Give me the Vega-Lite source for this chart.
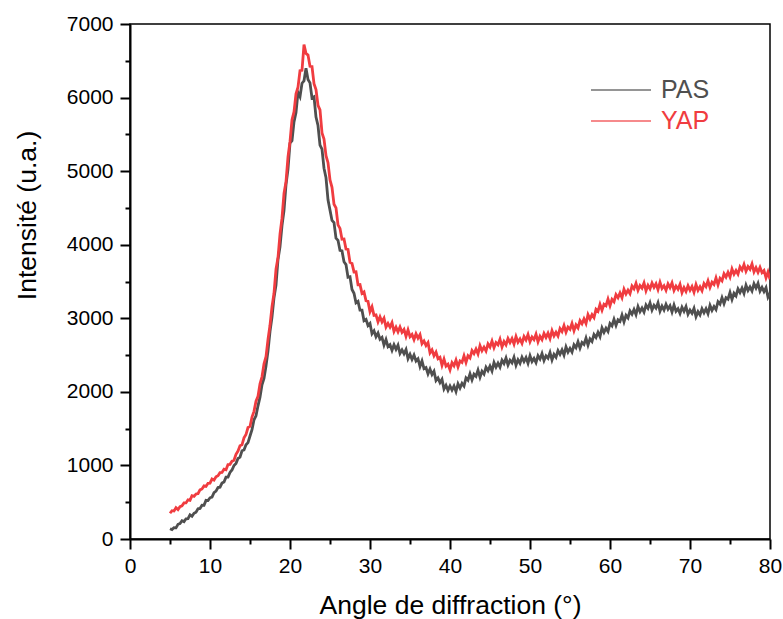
{
  "$schema": "https://vega.github.io/schema/vega-lite/v6.json",
  "width": 640,
  "height": 515,
  "autosize": "none",
  "padding": {"left": 130, "top": 24, "right": 13, "bottom": 80},
  "background": "white",
  "config": {
    "view": {"stroke": "black", "strokeWidth": 1.5},
    "font": "Liberation Sans",
    "axis": {
      "grid": false,
      "labelFont": "Liberation Sans",
      "labelFontSize": 21,
      "labelColor": "black",
      "titleFont": "Liberation Sans",
      "titleFontSize": 26.5,
      "titleFontWeight": "normal",
      "titleColor": "black",
      "domainColor": "black",
      "domainWidth": 2,
      "tickColor": "black",
      "tickWidth": 2,
      "tickSize": 10
    }
  },
  "data": {
    "values": [
      {"a":5,"PAS":140,"YAP":350},{"a":5.25,"PAS":128,"YAP":385},{"a":5.5,"PAS":155,"YAP":380},{"a":5.75,"PAS":152,"YAP":425},
      {"a":6,"PAS":200,"YAP":400},{"a":6.25,"PAS":209,"YAP":440},{"a":6.5,"PAS":248,"YAP":450},{"a":6.75,"PAS":236,"YAP":490},
      {"a":7,"PAS":275,"YAP":490},{"a":7.25,"PAS":276,"YAP":532},{"a":7.5,"PAS":328,"YAP":525},{"a":7.75,"PAS":309,"YAP":588},
      {"a":8,"PAS":350,"YAP":580},{"a":8.25,"PAS":365,"YAP":612},{"a":8.5,"PAS":410,"YAP":615},{"a":8.75,"PAS":415,"YAP":668},
      {"a":9,"PAS":460,"YAP":680},{"a":9.25,"PAS":458,"YAP":722},{"a":9.5,"PAS":525,"YAP":715},{"a":9.75,"PAS":522,"YAP":758},
      {"a":10,"PAS":560,"YAP":760},{"a":10.25,"PAS":570,"YAP":815},{"a":10.5,"PAS":630,"YAP":800},{"a":10.75,"PAS":650,"YAP":845},
      {"a":11,"PAS":700,"YAP":860},{"a":11.25,"PAS":705,"YAP":902},{"a":11.5,"PAS":760,"YAP":905},{"a":11.75,"PAS":775,"YAP":948},
      {"a":12,"PAS":840,"YAP":940},{"a":12.25,"PAS":842,"YAP":1012},{"a":12.5,"PAS":905,"YAP":1015},{"a":12.75,"PAS":938,"YAP":1058},
      {"a":13,"PAS":1000,"YAP":1070},{"a":13.25,"PAS":1028,"YAP":1152},{"a":13.5,"PAS":1095,"YAP":1195},{"a":13.75,"PAS":1112,"YAP":1268},
      {"a":14,"PAS":1200,"YAP":1280},{"a":14.25,"PAS":1210,"YAP":1375},{"a":14.5,"PAS":1280,"YAP":1420},{"a":14.75,"PAS":1310,"YAP":1515},
      {"a":15,"PAS":1400,"YAP":1530},{"a":15.25,"PAS":1485,"YAP":1658},{"a":15.5,"PAS":1620,"YAP":1735},{"a":15.75,"PAS":1675,"YAP":1872},
      {"a":16,"PAS":1810,"YAP":1940},{"a":16.25,"PAS":1928,"YAP":2108},{"a":16.5,"PAS":2095,"YAP":2205},{"a":16.75,"PAS":2182,"YAP":2382},
      {"a":17,"PAS":2350,"YAP":2480},{"a":17.25,"PAS":2555,"YAP":2712},{"a":17.5,"PAS":2820,"YAP":2905},{"a":17.75,"PAS":3015,"YAP":3158},
      {"a":18,"PAS":3280,"YAP":3340},{"a":18.25,"PAS":3450,"YAP":3668},{"a":18.5,"PAS":3800,"YAP":3825},{"a":18.75,"PAS":3970,"YAP":4142},
      {"a":19,"PAS":4260,"YAP":4360},{"a":19.25,"PAS":4462,"YAP":4698},{"a":19.5,"PAS":4815,"YAP":4855},{"a":19.75,"PAS":5028,"YAP":5192},
      {"a":20,"PAS":5380,"YAP":5400},{"a":20.25,"PAS":5415,"YAP":5698},{"a":20.5,"PAS":5670,"YAP":5805},{"a":20.75,"PAS":5795,"YAP":6052},
      {"a":21,"PAS":6070,"YAP":6140},{"a":21.25,"PAS":6012,"YAP":6365},{"a":21.5,"PAS":6195,"YAP":6370},{"a":21.75,"PAS":6228,"YAP":6720},
      {"a":22,"PAS":6400,"YAP":6600},{"a":22.25,"PAS":6245,"YAP":6578},{"a":22.5,"PAS":6200,"YAP":6425},{"a":22.75,"PAS":5995,"YAP":6422},
      {"a":23,"PAS":6010,"YAP":6190},{"a":23.25,"PAS":5735,"YAP":6108},{"a":23.5,"PAS":5620,"YAP":5895},{"a":23.75,"PAS":5355,"YAP":5832},
      {"a":24,"PAS":5300,"YAP":5520},{"a":24.25,"PAS":5040,"YAP":5435},{"a":24.5,"PAS":4910,"YAP":5210},{"a":24.75,"PAS":4610,"YAP":5115},
      {"a":25,"PAS":4470,"YAP":4880},{"a":25.25,"PAS":4330,"YAP":4780},{"a":25.5,"PAS":4300,"YAP":4550},{"a":25.75,"PAS":4090,"YAP":4500},
      {"a":26,"PAS":4060,"YAP":4270},{"a":26.25,"PAS":3922,"YAP":4222},{"a":26.5,"PAS":3915,"YAP":4075},{"a":26.75,"PAS":3768,"YAP":4078},
      {"a":27,"PAS":3730,"YAP":3940},{"a":27.25,"PAS":3558,"YAP":3935},{"a":27.5,"PAS":3565,"YAP":3760},{"a":27.75,"PAS":3392,"YAP":3745},
      {"a":28,"PAS":3340,"YAP":3630},{"a":28.25,"PAS":3210,"YAP":3632},{"a":28.5,"PAS":3230,"YAP":3455},{"a":28.75,"PAS":3110,"YAP":3458},
      {"a":29,"PAS":3110,"YAP":3340},{"a":29.25,"PAS":2968,"YAP":3360},{"a":29.5,"PAS":2985,"YAP":3240},{"a":29.75,"PAS":2902,"YAP":3230},
      {"a":30,"PAS":2930,"YAP":3090},{"a":30.25,"PAS":2790,"YAP":3155},{"a":30.5,"PAS":2830,"YAP":3040},{"a":30.75,"PAS":2750,"YAP":3045},
      {"a":31,"PAS":2800,"YAP":2950},{"a":31.25,"PAS":2715,"YAP":3020},{"a":31.5,"PAS":2740,"YAP":2950},{"a":31.75,"PAS":2635,"YAP":3000},
      {"a":32,"PAS":2710,"YAP":2880},{"a":32.25,"PAS":2615,"YAP":2930},{"a":32.5,"PAS":2640,"YAP":2880},{"a":32.75,"PAS":2565,"YAP":2940},
      {"a":33,"PAS":2640,"YAP":2820},{"a":33.25,"PAS":2578,"YAP":2878},{"a":33.5,"PAS":2635,"YAP":2815},{"a":33.75,"PAS":2522,"YAP":2882},
      {"a":34,"PAS":2570,"YAP":2810},{"a":34.25,"PAS":2518,"YAP":2848},{"a":34.5,"PAS":2575,"YAP":2755},{"a":34.75,"PAS":2452,"YAP":2842},
      {"a":35,"PAS":2510,"YAP":2750},{"a":35.25,"PAS":2440,"YAP":2780},{"a":35.5,"PAS":2500,"YAP":2710},{"a":35.75,"PAS":2420,"YAP":2790},
      {"a":36,"PAS":2450,"YAP":2730},{"a":36.25,"PAS":2345,"YAP":2778},{"a":36.5,"PAS":2420,"YAP":2655},{"a":36.75,"PAS":2315,"YAP":2692},
      {"a":37,"PAS":2330,"YAP":2630},{"a":37.25,"PAS":2245,"YAP":2670},{"a":37.5,"PAS":2310,"YAP":2530},{"a":37.75,"PAS":2235,"YAP":2570},
      {"a":38,"PAS":2280,"YAP":2490},{"a":38.25,"PAS":2155,"YAP":2540},{"a":38.5,"PAS":2190,"YAP":2450},{"a":38.75,"PAS":2125,"YAP":2470},
      {"a":39,"PAS":2170,"YAP":2360},{"a":39.25,"PAS":2040,"YAP":2445},{"a":39.5,"PAS":2090,"YAP":2350},{"a":39.75,"PAS":2020,"YAP":2375},
      {"a":40,"PAS":2080,"YAP":2300},{"a":40.25,"PAS":2025,"YAP":2398},{"a":40.5,"PAS":2080,"YAP":2355},{"a":40.75,"PAS":2005,"YAP":2432},
      {"a":41,"PAS":2110,"YAP":2340},{"a":41.25,"PAS":2052,"YAP":2420},{"a":41.5,"PAS":2115,"YAP":2400},{"a":41.75,"PAS":2078,"YAP":2490},
      {"a":42,"PAS":2190,"YAP":2400},{"a":42.25,"PAS":2158,"YAP":2490},{"a":42.5,"PAS":2245,"YAP":2460},{"a":42.75,"PAS":2162,"YAP":2560},
      {"a":43,"PAS":2240,"YAP":2520},{"a":43.25,"PAS":2212,"YAP":2582},{"a":43.5,"PAS":2295,"YAP":2515},{"a":43.75,"PAS":2198,"YAP":2628},
      {"a":44,"PAS":2280,"YAP":2560},{"a":44.25,"PAS":2242,"YAP":2608},{"a":44.5,"PAS":2335,"YAP":2555},{"a":44.75,"PAS":2288,"YAP":2652},
      {"a":45,"PAS":2350,"YAP":2610},{"a":45.25,"PAS":2285,"YAP":2690},{"a":45.5,"PAS":2400,"YAP":2600},{"a":45.75,"PAS":2335,"YAP":2670},
      {"a":46,"PAS":2390,"YAP":2640},{"a":46.25,"PAS":2335,"YAP":2715},{"a":46.5,"PAS":2430,"YAP":2610},{"a":46.75,"PAS":2385,"YAP":2685},
      {"a":47,"PAS":2460,"YAP":2640},{"a":47.25,"PAS":2365,"YAP":2725},{"a":47.5,"PAS":2430,"YAP":2670},{"a":47.75,"PAS":2395,"YAP":2725},
      {"a":48,"PAS":2470,"YAP":2650},{"a":48.25,"PAS":2362,"YAP":2752},{"a":48.5,"PAS":2435,"YAP":2675},{"a":48.75,"PAS":2388,"YAP":2718},
      {"a":49,"PAS":2470,"YAP":2660},{"a":49.25,"PAS":2412,"YAP":2752},{"a":49.5,"PAS":2465,"YAP":2705},{"a":49.75,"PAS":2388,"YAP":2778},
      {"a":50,"PAS":2490,"YAP":2680},{"a":50.25,"PAS":2412,"YAP":2745},{"a":50.5,"PAS":2455,"YAP":2710},{"a":50.75,"PAS":2398,"YAP":2785},
      {"a":51,"PAS":2490,"YAP":2680},{"a":51.25,"PAS":2445,"YAP":2755},{"a":51.5,"PAS":2520,"YAP":2710},{"a":51.75,"PAS":2425,"YAP":2795},
      {"a":52,"PAS":2490,"YAP":2740},{"a":52.25,"PAS":2458,"YAP":2798},{"a":52.5,"PAS":2535,"YAP":2725},{"a":52.75,"PAS":2432,"YAP":2832},
      {"a":53,"PAS":2510,"YAP":2760},{"a":53.25,"PAS":2470,"YAP":2810},{"a":53.5,"PAS":2560,"YAP":2760},{"a":53.75,"PAS":2510,"YAP":2860},
      {"a":54,"PAS":2570,"YAP":2820},{"a":54.25,"PAS":2500,"YAP":2900},{"a":54.5,"PAS":2610,"YAP":2810},{"a":54.75,"PAS":2540,"YAP":2880},
      {"a":55,"PAS":2590,"YAP":2850},{"a":55.25,"PAS":2540,"YAP":2930},{"a":55.5,"PAS":2640,"YAP":2830},{"a":55.75,"PAS":2600,"YAP":2910},
      {"a":56,"PAS":2680,"YAP":2870},{"a":56.25,"PAS":2595,"YAP":2968},{"a":56.5,"PAS":2670,"YAP":2925},{"a":56.75,"PAS":2645,"YAP":2992},
      {"a":57,"PAS":2730,"YAP":2930},{"a":57.25,"PAS":2635,"YAP":3050},{"a":57.5,"PAS":2720,"YAP":2990},{"a":57.75,"PAS":2685,"YAP":3050},
      {"a":58,"PAS":2780,"YAP":3010},{"a":58.25,"PAS":2740,"YAP":3122},{"a":58.5,"PAS":2810,"YAP":3095},{"a":58.75,"PAS":2750,"YAP":3188},
      {"a":59,"PAS":2870,"YAP":3110},{"a":59.25,"PAS":2808,"YAP":3190},{"a":59.5,"PAS":2865,"YAP":3170},{"a":59.75,"PAS":2822,"YAP":3260},
      {"a":60,"PAS":2930,"YAP":3170},{"a":60.25,"PAS":2898,"YAP":3258},{"a":60.5,"PAS":2985,"YAP":3225},{"a":60.75,"PAS":2902,"YAP":3322},
      {"a":61,"PAS":2980,"YAP":3280},{"a":61.25,"PAS":2958,"YAP":3345},{"a":61.5,"PAS":3045,"YAP":3280},{"a":61.75,"PAS":2952,"YAP":3395},
      {"a":62,"PAS":3040,"YAP":3330},{"a":62.25,"PAS":3005,"YAP":3382},{"a":62.5,"PAS":3100,"YAP":3335},{"a":62.75,"PAS":3055,"YAP":3438},
      {"a":63,"PAS":3120,"YAP":3400},{"a":63.25,"PAS":3050,"YAP":3475},{"a":63.5,"PAS":3160,"YAP":3380},{"a":63.75,"PAS":3090,"YAP":3445},
      {"a":64,"PAS":3140,"YAP":3410},{"a":64.25,"PAS":3085,"YAP":3482},{"a":64.5,"PAS":3180,"YAP":3375},{"a":64.75,"PAS":3135,"YAP":3448},
      {"a":65,"PAS":3210,"YAP":3400},{"a":65.25,"PAS":3112,"YAP":3480},{"a":65.5,"PAS":3175,"YAP":3420},{"a":65.75,"PAS":3138,"YAP":3470},
      {"a":66,"PAS":3210,"YAP":3390},{"a":66.25,"PAS":3098,"YAP":3488},{"a":66.5,"PAS":3165,"YAP":3405},{"a":66.75,"PAS":3112,"YAP":3442},
      {"a":67,"PAS":3190,"YAP":3380},{"a":67.25,"PAS":3125,"YAP":3468},{"a":67.5,"PAS":3170,"YAP":3415},{"a":67.75,"PAS":3085,"YAP":3482},
      {"a":68,"PAS":3180,"YAP":3380},{"a":68.25,"PAS":3095,"YAP":3438},{"a":68.5,"PAS":3130,"YAP":3395},{"a":68.75,"PAS":3065,"YAP":3462},
      {"a":69,"PAS":3150,"YAP":3350},{"a":69.25,"PAS":3095,"YAP":3418},{"a":69.5,"PAS":3160,"YAP":3365},{"a":69.75,"PAS":3055,"YAP":3442},
      {"a":70,"PAS":3110,"YAP":3380},{"a":70.25,"PAS":3068,"YAP":3432},{"a":70.5,"PAS":3135,"YAP":3355},{"a":70.75,"PAS":3022,"YAP":3458},
      {"a":71,"PAS":3090,"YAP":3380},{"a":71.25,"PAS":3045,"YAP":3428},{"a":71.5,"PAS":3130,"YAP":3375},{"a":71.75,"PAS":3075,"YAP":3472},
      {"a":72,"PAS":3130,"YAP":3430},{"a":72.25,"PAS":3062,"YAP":3510},{"a":72.5,"PAS":3175,"YAP":3420},{"a":72.75,"PAS":3108,"YAP":3490},
      {"a":73,"PAS":3160,"YAP":3460},{"a":73.25,"PAS":3118,"YAP":3548},{"a":73.5,"PAS":3225,"YAP":3455},{"a":73.75,"PAS":3192,"YAP":3542},
      {"a":74,"PAS":3280,"YAP":3510},{"a":74.25,"PAS":3200,"YAP":3605},{"a":74.5,"PAS":3280,"YAP":3560},{"a":74.75,"PAS":3260,"YAP":3625},
      {"a":75,"PAS":3350,"YAP":3560},{"a":75.25,"PAS":3255,"YAP":3670},{"a":75.5,"PAS":3340,"YAP":3600},{"a":75.75,"PAS":3305,"YAP":3650},
      {"a":76,"PAS":3400,"YAP":3600},{"a":76.25,"PAS":3350,"YAP":3698},{"a":76.5,"PAS":3410,"YAP":3655},{"a":76.75,"PAS":3340,"YAP":3732},
      {"a":77,"PAS":3450,"YAP":3640},{"a":77.25,"PAS":3378,"YAP":3702},{"a":77.5,"PAS":3425,"YAP":3665},{"a":77.75,"PAS":3372,"YAP":3738},
      {"a":78,"PAS":3470,"YAP":3630},{"a":78.25,"PAS":3412,"YAP":3688},{"a":78.5,"PAS":3475,"YAP":3625},{"a":78.75,"PAS":3368,"YAP":3692},
      {"a":79,"PAS":3420,"YAP":3620},{"a":79.25,"PAS":3362,"YAP":3650},{"a":79.5,"PAS":3415,"YAP":3550},{"a":79.75,"PAS":3288,"YAP":3630},
      {"a":80,"PAS":3340,"YAP":3530}
    ]
  },
  "transform": [{"fold": ["PAS", "YAP"], "as": ["serie", "v"]}],
  "layer": [
    {
      "mark": {"type": "line", "strokeWidth": 2.8, "clip": true},
      "encoding": {
        "x": {
          "field": "a", "type": "quantitative",
          "scale": {"domain": [0, 80], "nice": false, "zero": false},
          "axis": {"values": [0,10,20,30,40,50,60,70,80], "format": "d", "title": "Angle de diffraction (°)", "labelPadding": 6, "titleY": 74, "titleBaseline": "alphabetic", "labelFlush": false}
        },
        "y": {
          "field": "v", "type": "quantitative",
          "scale": {"domain": [0, 7000], "nice": false},
          "axis": {"values": [0,1000,2000,3000,4000,5000,6000,7000], "format": "d", "title": "Intensité (u.a.)", "labelPadding": 7, "titleX": -95, "titleY": 191, "titleBaseline": "alphabetic", "titleAngle": -90, "titleAlign": "center", "labelFlush": false}
        },
        "color": {
          "field": "serie", "type": "nominal",
          "scale": {"domain": ["PAS", "YAP"], "range": ["#4f4f4f", "#f03c40"]},
          "legend": {
            "title": null,
            "orient": "none",
            "legendX": 475,
            "legendY": 50,
            "symbolType": "M-2,0H2",
            "symbolSize": 900,
            "symbolStrokeWidth": 1.5,
            "symbolOpacity": 0.8,
            "labelFontSize": 25,
            "labelFont": "Liberation Sans",
            "labelOffset": 24,
            "rowPadding": 2,
            "encode": {
              "labels": {"update": {"fill": {"signal": "datum.value === 'PAS' ? '#4f4f4f' : '#f03c40'"}}}
            }
          }
        }
      }
    },
    {
      "mark": {"type": "point", "opacity": 0},
      "encoding": {
        "x": {
          "field": "a", "type": "quantitative",
          "axis": {"orient": "bottom", "values": [5,15,25,35,45,55,65,75], "labels": false, "domain": false, "tickSize": 5, "title": null}
        },
        "y": {
          "field": "v", "type": "quantitative",
          "axis": {"orient": "left", "values": [500,1500,2500,3500,4500,5500,6500], "labels": false, "domain": false, "tickSize": 5, "title": null}
        }
      }
    }
  ],
  "resolve": {"axis": {"x": "independent", "y": "independent"}}
}
